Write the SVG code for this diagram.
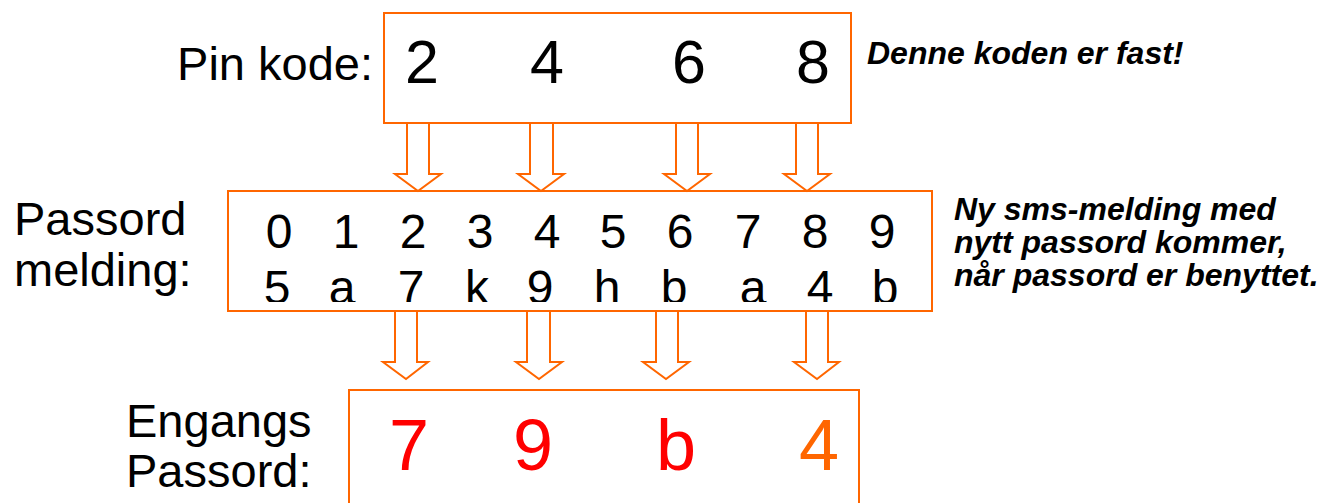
<svg xmlns="http://www.w3.org/2000/svg" width="1332" height="503" viewBox="0 0 1332 503">
<style>
.box{fill:#fff;stroke:#FF6600;stroke-width:2}
.arr{fill:#fff;stroke:#FF6600;stroke-width:2;stroke-linejoin:miter}
.lbl{font-family:"Liberation Sans",Arial,sans-serif;font-size:47px;fill:#000}
.d{font-family:"Liberation Sans",Arial,sans-serif;font-size:48px;fill:#000;text-anchor:middle}
.pin{font-family:"Liberation Sans",Arial,sans-serif;font-size:61px;fill:#000;text-anchor:middle}
.eng{font-family:"Liberation Sans",Arial,sans-serif;font-size:72px;text-anchor:middle}
.note{font-family:"Liberation Sans",Arial,sans-serif;font-size:32px;font-weight:bold;font-style:italic;fill:#000}
</style>
<defs>
<clipPath id="rowclip"><rect x="228" y="250" width="704" height="52"/></clipPath>
</defs>
<rect width="1332" height="503" fill="#fff"/>

<g id="pin">
<text class="lbl" x="373" y="80" text-anchor="end">Pin kode:</text>
<rect class="box" x="384" y="13" width="467" height="110"/>
<text class="pin" x="422" y="83">2</text>
<text class="pin" x="547" y="83">4</text>
<text class="pin" x="689" y="83">6</text>
<text class="pin" x="813" y="83">8</text>
</g>

<g id="note1">
<text class="note" x="867" y="64">Denne koden er fast!</text>
</g>

<g id="passord">
<text class="lbl" x="14" y="235">Passord</text>
<text class="lbl" x="14" y="286">melding:</text>
<rect class="box" x="228" y="191" width="704" height="120"/>
<text class="d" y="248"><tspan x="279">0</tspan><tspan x="346">1</tspan><tspan x="413">2</tspan><tspan x="480">3</tspan><tspan x="547">4</tspan><tspan x="613">5</tspan><tspan x="680">6</tspan><tspan x="748">7</tspan><tspan x="815">8</tspan><tspan x="882">9</tspan></text>
<text class="d" y="304" clip-path="url(#rowclip)"><tspan x="277">5</tspan><tspan x="342">a</tspan><tspan x="411">7</tspan><tspan x="477">k</tspan><tspan x="540">9</tspan><tspan x="607">h</tspan><tspan x="674">b</tspan><tspan x="753">a</tspan><tspan x="820">4</tspan><tspan x="885">b</tspan></text>
</g>

<g id="note2">
<text class="note" x="954" y="220">Ny sms-melding med</text>
<text class="note" x="954" y="253">nytt passord kommer,</text>
<text class="note" x="954" y="286">når passord er benyttet.</text>
</g>

<g id="engangs">
<text class="lbl" x="126" y="437">Engangs</text>
<text class="lbl" x="126" y="487">Passord:</text>
<rect class="box" x="349" y="390" width="510" height="130"/>
<text class="eng" x="409" y="470" fill="#FF0000">7</text>
<text class="eng" x="533" y="470" fill="#FF0000">9</text>
<text class="eng" x="676" y="470" fill="#FF0000">b</text>
<text class="eng" x="819" y="470" fill="#FF6600">4</text>
</g>

<g id="connectors">
<polygon class="arr" points="407,123 429,123 429,174 441,174 418,191 395,174 407,174"/>
<polygon class="arr" points="530,123 553,123 553,174 564,174 541,191 518,174 530,174"/>
<polygon class="arr" points="676,123 698,123 698,174 710,174 687,191 664,174 676,174"/>
<polygon class="arr" points="796,123 818,123 818,174 830,174 807,191 784,174 796,174"/>
<polygon class="arr" points="395,311 417,311 417,362 428,362 406,379 383,362 395,362"/>
<polygon class="arr" points="527,311 550,311 550,362 562,362 539,379 516,362 527,362"/>
<polygon class="arr" points="656,311 678,311 678,362 689,362 666,379 643,362 656,362"/>
<polygon class="arr" points="806,311 828,311 828,362 839,362 817,379 794,362 806,362"/>
</g>
</svg>
